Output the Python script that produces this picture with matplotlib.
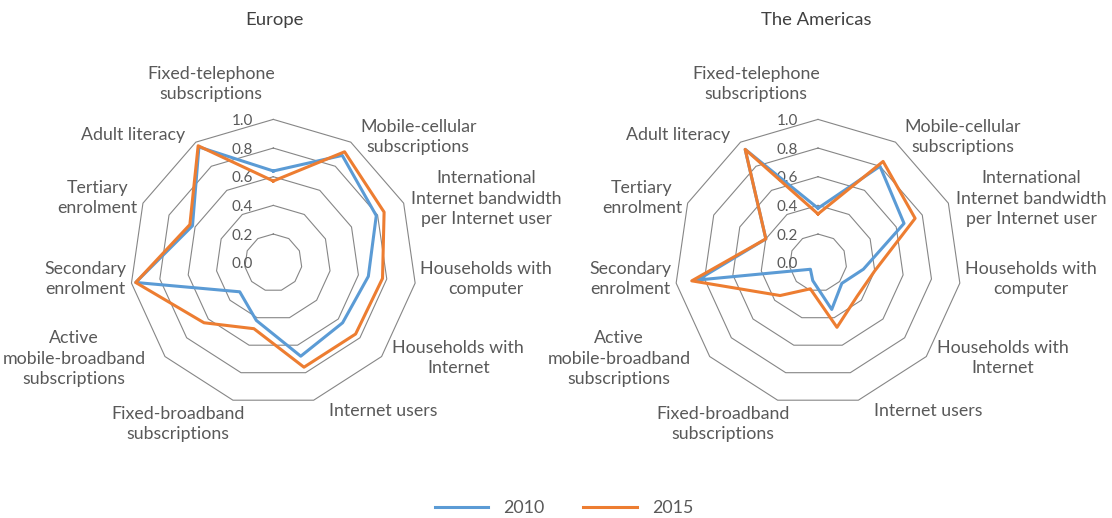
import matplotlib.pyplot as plt
import numpy as np

plt.rcParams['font.family'] = ['Lato', 'DejaVu Sans']

categories = ['Fixed-telephone\nsubscriptions',
              'Mobile-cellular\nsubscriptions',
              'International\nInternet bandwidth\nper Internet user',
              'Households with\ncomputer',
              'Households with\nInternet',
              'Internet users',
              'Fixed-broadband\nsubscriptions',
              'Active\nmobile-broadband\nsubscriptions',
              'Secondary\nenrolment',
              'Tertiary\nenrolment',
              'Adult literacy']
years = ['2010', '2015']
tick_values = [0.0, 0.2, 0.4, 0.6, 0.8, 1.0]

europe_2010 = [0.64, 0.89, 0.79, 0.67, 0.64, 0.68, 0.42, 0.31, 0.97, 0.62, 0.96]
europe_2015 = [0.57, 0.92, 0.85, 0.77, 0.76, 0.76, 0.48, 0.64, 0.97, 0.64, 0.97]
americas_2010 = [0.38, 0.80, 0.66, 0.32, 0.22, 0.34, 0.13, 0.07, 0.85, 0.40, 0.94]
americas_2015 = [0.34, 0.84, 0.745, 0.40, 0.36, 0.47, 0.19, 0.35, 0.89, 0.40, 0.94]

# label offsets from the chart centre, in pixels (x right, y down)
label_offsets = [(-62, -179), (145, -126), (213, -64), (213, 16), (185, 95),
                 (110, 148), (-95, 161), (-199, 96), (-188, 16), (-176, -65),
                 (-140, -128)]

BLUE = '#5B9BD5'
ORANGE = '#ED7D31'
TEXT = '#595959'
GRID = '#868686'

n = len(categories)
angles = np.arange(n) * 2 * np.pi / n
closed = np.append(angles, angles[0])

fig = plt.figure(figsize=(11.12, 5.18), dpi=100)


def radar(rect, s2010, s2015):
    ax = fig.add_axes(rect, projection='polar')
    ax.set_theta_zero_location('N')
    ax.set_theta_direction(-1)
    ax.set_ylim(0, 1.0)
    ax.grid(False)
    ax.spines['polar'].set_visible(False)
    ax.set_xticks([])
    ax.set_yticks([])
    ax.patch.set_visible(False)

    for r in tick_values[1:]:
        ax.plot(closed, [r] * (n + 1), color=GRID, lw=0.8, clip_on=False, zorder=1)
    for r in tick_values:
        ax.annotate(f'{r:.1f}', xy=(0, r), xytext=(-20, 0), textcoords='offset pixels',
                    ha='right', va='center_baseline', fontsize=11, color=TEXT)

    l1, = ax.plot(closed, s2010 + s2010[:1], color=BLUE, lw=2.2, clip_on=False, zorder=3)
    l2, = ax.plot(closed, s2015 + s2015[:1], color=ORANGE, lw=2.2, clip_on=False, zorder=4)

    for lab, (dx, dy) in zip(categories, label_offsets):
        ax.annotate(lab, xy=(0, 0), xytext=(dx, -dy), textcoords='offset pixels',
                    ha='center', va='center', fontsize=12.8, color=TEXT,
                    multialignment='center', linespacing=1.33)
    return ax, l1, l2


def rect_for(cx, cy, r):
    W, H = 1112, 518
    return [(cx - r) / W, (H - cy - r) / H, 2 * r / W, 2 * r / H]


ax1, l1, l2 = radar(rect_for(273.3, 262.7, 143.3), europe_2010, europe_2015)
ax2, _, _ = radar(rect_for(818, 262.7, 143.3), americas_2010, americas_2015)

fig.text(274 / 1112, 1 - 20 / 518, 'Europe', ha='center', va='center', fontsize=13.3, color='#404040')
fig.text(816 / 1112, 1 - 20 / 518, 'The Americas', ha='center', va='center', fontsize=13.3, color='#404040')

fig.legend([l1, l2], years, loc='center', bbox_to_anchor=(564 / 1112, 1 - 508 / 518),
           ncol=2, frameon=False, fontsize=12.8, labelcolor=TEXT,
           handlelength=3.0, handletextpad=0.85, columnspacing=2.2)

fig.savefig('out.png', dpi=100)
